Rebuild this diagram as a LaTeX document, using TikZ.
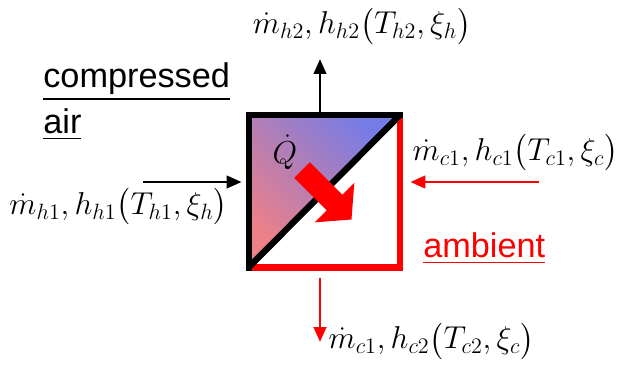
\documentclass[tikz,border=0pt]{standalone}
\usepackage{fix-cm}
\usepackage{amsmath}
\usepackage{fontspec}
\setsansfont{Liberation Sans}
\usepackage{tikz}
\usetikzlibrary{arrows.meta, positioning, calc}
\definecolor{hotblue}{RGB}{118,124,230}
\definecolor{hotpink}{RGB}{238,128,135}
\definecolor{myred}{RGB}{255,0,0}
\tikzset{
  hotline/.style={line width=3.6pt, draw=black, line join=miter},
  coldline/.style={line width=3.6pt, draw=myred, line join=miter},
  hotflow/.style={-{Triangle[length=8.5pt,width=7pt]}, line width=1.7pt, color=black},
  coldflow/.style={-{Triangle[length=8.5pt,width=7pt]}, line width=1.7pt, color=myred},
  state/.style={inner sep=0pt, font=\fontsize{18}{21}\selectfont},
  tag/.style={inner sep=0pt, anchor=base west, font=\sffamily\fontsize{19.5}{24}\selectfont}
}

\begin{document}
\begin{tikzpicture}[x=0.02cm, y=0.02cm]
  \useasboundingbox (0,0) rectangle (627,370);

  % exchanger box
  \node[minimum width=3.02cm, minimum height=3.04cm, inner sep=0pt] (hx) at (324.5,179) {};
  \shade[top color=hotblue, bottom color=hotpink, shading angle=-45]
    (hx.north west) -- (hx.north east) -- (hx.south west) -- cycle;
  \draw[coldline] (hx.north east) -- (hx.south east) -- (hx.south west);
  \draw[hotline, line cap=rect] (hx.south west) -- (hx.north west) -- (hx.north east);
  \draw[hotline] (hx.south west) -- (hx.north east);
  \node[state] (qdot) at (285,218) {$\dot{Q}$};

  % heat flow
  \begin{scope}[shift={(302,200)}, rotate=-45]
    \fill[myred] (0,-11) -- (46,-11) -- (46,-28) -- (70,0) -- (46,28) -- (46,11) -- (0,11) -- cycle;
  \end{scope}

  % streams
  \coordinate (hotin) at (143,188);
  \coordinate (hotout) at (320,311);
  \coordinate (coldin) at (539,188);
  \coordinate (coldout) at (320,28);
  \draw[hotflow, shorten >=4pt] (hotin) -- (hotin -| hx.west);
  \draw[hotflow] (hotout |- hx.north) -- (hotout);
  \draw[coldflow, shorten >=5.7pt] (coldin) -- (coldin -| hx.east);
  \draw[coldflow, shorten <=6pt] (coldout |- hx.south) -- (coldout);

  \node[state] (hotoutlbl) at (362,344) {$\dot{m}_{h2}, h_{h2}\bigl(T_{h2}, \xi_h\bigr)$};
  \node[state] (hotinlbl) at (118.5,163.5) {$\dot{m}_{h1}, h_{h1}\bigl(T_{h1}, \xi_h\bigr)$};
  \node[state] (coldinlbl) at (515.5,217.5) {$\dot{m}_{c1}, h_{c1}\bigl(T_{c1}, \xi_c\bigr)$};
  \node[state] (coldoutlbl) at (431.5,29) {$\dot{m}_{c1}, h_{c2}\bigl(T_{c2}, \xi_c\bigr)$};

  % sides
  \node[tag] (comp) at (43,283) {\underline{compressed}};
  \node[tag] (air) at (43,237) {\underline{air}};
  \node[tag, text=myred] (amb) at (423,113) {\underline{ambient}};
\end{tikzpicture}
\end{document}
